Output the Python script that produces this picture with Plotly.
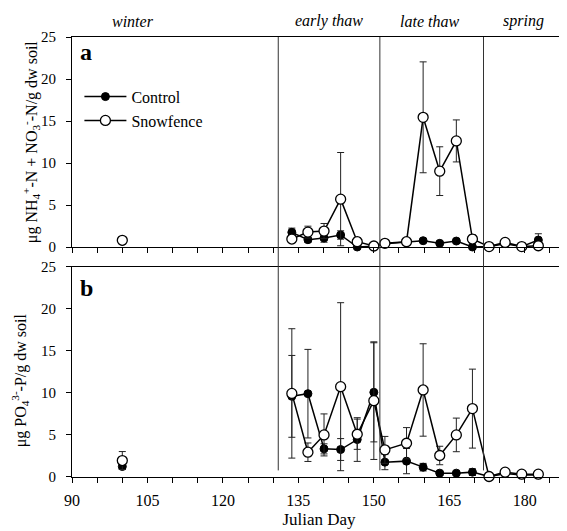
import plotly.graph_objects as go

# ---------------- data ----------------
winter_day = [100.0]
days = [133.7, 136.9, 140.1, 143.4, 146.7, 150.0, 152.2, 156.5,
        159.8, 163.1, 166.4, 169.6, 172.9, 176.1, 179.4, 182.7]
season_bounds = [131.0, 151.2, 171.8]
season_names = ["winter", "early thaw", "late thaw", "spring"]

# panel a: NH4+ + NO3- (ug N / g dw soil)
ctrl_a_winter = [0.7]
ctrl_a_winter_err = [0.15]
snow_a_winter = [0.8]
snow_a_winter_err = [0.2]
ctrl_a = [1.75, 0.87, 1.07, 1.43, 0.0, 0.1, 0.4, 0.6, 0.75, 0.44, 0.71, 0.0, 0.05, 0.4, 0.05, 0.83]
ctrl_a_err = [0.5, 0.3, 0.5, 0.5, 0.1, 0.1, 0.15, 0.15, 0.2, 0.15, 0.2, 0.1, 0.1, 0.3, 0.1, 0.75]
snow_a = [0.95, 1.78, 1.9, 5.7, 0.63, 0.12, 0.44, 0.63, 15.44, 9.03, 12.63, 0.95, 0.05, 0.55, 0.05, 0.15]
snow_a_err = [0.3, 0.7, 0.9, 5.55, 0.5, 0.1, 0.2, 0.2, 6.6, 2.9, 2.5, 0.5, 0.1, 0.3, 0.1, 0.2]

# panel b: PO4 3- (ug P / g dw soil)
ctrl_b_winter = [1.25]
ctrl_b_winter_err = [0.3]
snow_b_winter = [1.96]
snow_b_winter_err = [1.07]
ctrl_b = [9.6, 9.92, 3.35, 3.27, 4.46, 10.08, 1.77, 1.89, 1.17, 0.46, 0.46, 0.58, 0.05, 0.4, 0.25, 0.25]
ctrl_b_err = [4.87, 5.27, 0.6, 1.3, 2.6, 5.9, 0.9, 1.5, 0.45, 0.2, 0.2, 0.4, 0.1, 0.2, 0.1, 0.1]
snow_b = [9.95, 2.95, 5.01, 10.75, 5.09, 9.09, 3.23, 4.02, 10.36, 2.56, 5.01, 8.14, 0.06, 0.58, 0.34, 0.34]
snow_b_err = [7.7, 1.1, 2.5, 10.0, 1.8, 7.0, 1.6, 1.86, 5.5, 1.1, 2.0, 4.7, 0.1, 0.25, 0.15, 0.15]

x_ticks = [90, 105, 120, 135, 150, 165, 180]
y_ticks = [0, 5, 10, 15, 20, 25]
y_title_a = "μg NH<sub>4</sub><sup>+</sup>-N + NO<sub>3</sub><sup>-</sup>-N/g dw soil"
y_title_b = "μg PO<sub>4</sub><sup>3-</sup>-P/g dw soil"
x_title = "Julian Day"

# ---------------- figure ----------------
FONT = "'Liberation Serif', 'Times New Roman', 'DejaVu Serif', serif"
fig = go.Figure()


def err(arr):
    return dict(type="data", array=arr, visible=True, color="#222",
                thickness=1, width=3.5)


ctrl_marker = dict(symbol="circle", size=8, color="black", line=dict(color="black", width=1))
snow_marker = dict(symbol="circle", size=10, color="white", line=dict(color="black", width=1.3))

for xa, ya, cw, cwe, sw, swe, c, ce, s, se, leg in [
    ("x", "y", ctrl_a_winter, ctrl_a_winter_err, snow_a_winter, snow_a_winter_err,
     ctrl_a, ctrl_a_err, snow_a, snow_a_err, True),
    ("x2", "y2", ctrl_b_winter, ctrl_b_winter_err, snow_b_winter, snow_b_winter_err,
     ctrl_b, ctrl_b_err, snow_b, snow_b_err, False),
]:
    fig.add_trace(go.Scatter(x=winter_day, y=cw, error_y=err(cwe), mode="markers",
                             marker=ctrl_marker, xaxis=xa, yaxis=ya, showlegend=False,
                             cliponaxis=False))
    fig.add_trace(go.Scatter(x=days, y=c, error_y=err(ce), mode="lines+markers",
                             marker=ctrl_marker, line=dict(color="black", width=1.5),
                             xaxis=xa, yaxis=ya, name="Control", showlegend=leg,
                             cliponaxis=False))
    fig.add_trace(go.Scatter(x=winter_day, y=sw, error_y=err(swe), mode="markers",
                             marker=snow_marker, xaxis=xa, yaxis=ya, showlegend=False,
                             cliponaxis=False))
    fig.add_trace(go.Scatter(x=days, y=s, error_y=err(se), mode="lines+markers",
                             marker=snow_marker, line=dict(color="black", width=1.5),
                             xaxis=xa, yaxis=ya, name="Snowfence", showlegend=leg,
                             cliponaxis=False))

# season boundary lines spanning both panels
for b in season_bounds:
    fig.add_shape(type="line", xref="x", yref="paper", x0=b, x1=b, y0=0.015, y1=1,
                  line=dict(color="#333", width=1))

# season labels
for name, px in zip(season_names, [0.123, 0.521, 0.723, 0.913]):
    fig.add_annotation(text=name, xref="paper", yref="paper", x=px, y=1.012,
                       xanchor="center", yanchor="bottom", showarrow=False,
                       font=dict(family=FONT, size=16, color="black", style="italic"))

# panel letters
for letter, py in [("a", 0.999), ("b", 0.464)]:
    fig.add_annotation(text="<b>%s</b>" % letter, xref="paper", yref="paper",
                       x=0.012, y=py, xanchor="left", yanchor="top", showarrow=False,
                       font=dict(family=FONT, size=24, color="black"))

# y-axis titles
for txt, px, py in [(y_title_a, -0.083, 0.761), (y_title_b, -0.105, 0.22)]:
    fig.add_annotation(text=txt, xref="paper", yref="paper", x=px, y=py,
                       xanchor="center", yanchor="middle", textangle=-90,
                       showarrow=False, font=dict(family=FONT, size=16, color="black"))

xcommon = dict(range=[90, 188.2], tickvals=x_ticks, ticks="outside", ticklen=5,
               tickcolor="black", showline=True, linecolor="black", linewidth=1,
               mirror=True, showgrid=False, zeroline=False, automargin=False,
               minor=dict(dtick=5, tick0=90, ticks="outside", ticklen=5, tickcolor="black"),
               tickfont=dict(family=FONT, size=16, color="black"))
ycommon = dict(range=[0, 25], tickvals=y_ticks, ticks="outside", ticklen=5,
               tickcolor="black", showline=True, linecolor="black", linewidth=1,
               mirror=True, showgrid=False, zeroline=False, automargin=False,
               ticklabelstandoff=7,
               tickfont=dict(family=FONT, size=15, color="black"))

fig.update_layout(
    template="none",
    width=559, height=523,
    margin=dict(l=64, r=1, t=29, b=54),
    paper_bgcolor="white", plot_bgcolor="white",
    font=dict(family=FONT, size=16, color="black"),
    xaxis=dict(anchor="y", domain=[0, 1], showticklabels=False, **xcommon),
    xaxis2=dict(anchor="y2", domain=[0, 1], matches="x", ticklabelstandoff=4,
                title=dict(text=x_title, standoff=4,
                           font=dict(family=FONT, size=17, color="black")),
                **xcommon),
    yaxis=dict(anchor="x", domain=[0.5227, 1], **ycommon),
    yaxis2=dict(anchor="x2", domain=[0, 0.4773], **ycommon),
    legend=dict(x=0.015, y=0.903, xanchor="left", yanchor="top",
                bgcolor="rgba(0,0,0,0)", font=dict(family=FONT, size=16, color="black"),
                tracegroupgap=0, itemwidth=42),
    showlegend=True,
)

fig.write_html("out.html")
